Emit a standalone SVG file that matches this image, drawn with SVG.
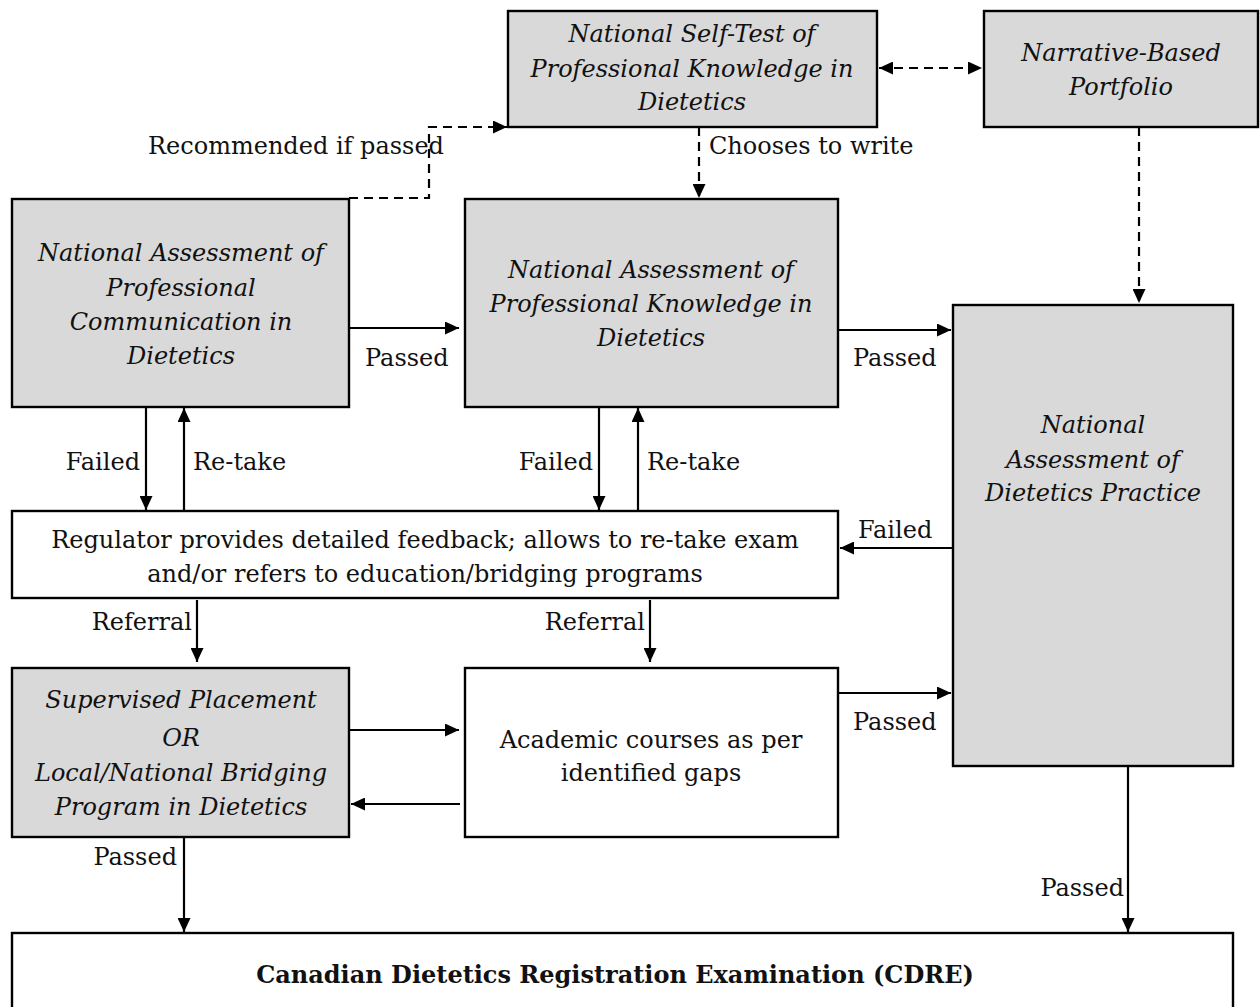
<svg xmlns="http://www.w3.org/2000/svg" width="1260" height="1007" viewBox="0 0 1260 1007">
  <defs>
    <marker id="ah" markerUnits="userSpaceOnUse" markerWidth="15" markerHeight="13" refX="14" refY="6.5" orient="auto-start-reverse">
      <path d="M0,0 L14,6.5 L0,13 z" fill="#000"/>
    </marker>
    <style>
      .box { stroke: #000; stroke-width: 2.4; }
      .grey { fill: #d9d9d9; }
      .white { fill: #fff; }
      .t { font-family: "DejaVu Serif", "Liberation Serif", serif; font-size: 24px; fill: #111; }
      .it { font-style: italic; }
      .c { text-anchor: middle; }
      .e { text-anchor: end; }
      .bold { font-weight: bold; font-size: 24px; }
      .ln { stroke: #000; stroke-width: 2.2; fill: none; }
      .dash { stroke-dasharray: 9 6; }
    </style>
  </defs>
  <rect width="1260" height="1007" fill="#fff"/>

  <!-- connectors -->
  <g id="connectors">
    <!-- recommended-if-passed route into the self-test -->
    <path class="ln dash" d="M349,198 H429 V127 H507" marker-end="url(#ah)"/>
    <!-- self-test <-> portfolio -->
    <line class="ln dash" x1="879" y1="68" x2="982" y2="68" marker-start="url(#ah)" marker-end="url(#ah)"/>
    <!-- chooses to write -->
    <line class="ln dash" x1="699" y1="127" x2="699" y2="198" marker-end="url(#ah)"/>
    <!-- portfolio to practice assessment -->
    <line class="ln dash" x1="1139" y1="127" x2="1139" y2="303" marker-end="url(#ah)"/>

    <!-- passed arrows along the top row -->
    <line class="ln" x1="350" y1="328" x2="459" y2="328" marker-end="url(#ah)"/>
    <line class="ln" x1="839" y1="330" x2="951" y2="330" marker-end="url(#ah)"/>

    <!-- failed / re-take pairs -->
    <line class="ln" x1="146" y1="408" x2="146" y2="510" marker-end="url(#ah)"/>
    <line class="ln" x1="184" y1="510" x2="184" y2="408" marker-end="url(#ah)"/>
    <line class="ln" x1="599" y1="408" x2="599" y2="510" marker-end="url(#ah)"/>
    <line class="ln" x1="638" y1="510" x2="638" y2="408" marker-end="url(#ah)"/>

    <!-- failed from practice assessment -->
    <line class="ln" x1="952" y1="548" x2="840" y2="548" marker-end="url(#ah)"/>

    <!-- referrals -->
    <line class="ln" x1="197" y1="600" x2="197" y2="662" marker-end="url(#ah)"/>
    <line class="ln" x1="650" y1="600" x2="650" y2="662" marker-end="url(#ah)"/>

    <!-- placement <-> academic courses -->
    <line class="ln" x1="350" y1="730" x2="459" y2="730" marker-end="url(#ah)"/>
    <line class="ln" x1="460" y1="804" x2="351" y2="804" marker-end="url(#ah)"/>

    <!-- academic courses passed -->
    <line class="ln" x1="839" y1="693" x2="951" y2="693" marker-end="url(#ah)"/>

    <!-- routes into the CDRE -->
    <line class="ln" x1="184" y1="838" x2="184" y2="932" marker-end="url(#ah)"/>
    <line class="ln" x1="1128" y1="767" x2="1128" y2="932" marker-end="url(#ah)"/>

    <!-- labels -->
    <text class="t" x="148" y="154">Recommended if passed</text>
    <text class="t" x="709" y="154">Chooses to write</text>
    <text class="t" x="365" y="366">Passed</text>
    <text class="t" x="853" y="366">Passed</text>
    <text class="t e" x="140" y="470">Failed</text>
    <text class="t" x="193" y="470">Re-take</text>
    <text class="t e" x="593" y="470">Failed</text>
    <text class="t" x="647" y="470">Re-take</text>
    <text class="t" x="858" y="538">Failed</text>
    <text class="t e" x="192" y="630">Referral</text>
    <text class="t e" x="645" y="630">Referral</text>
    <text class="t" x="853" y="730">Passed</text>
    <text class="t e" x="177" y="865">Passed</text>
    <text class="t e" x="1124" y="896">Passed</text>
  </g>

  <g id="self-test">
    <rect class="box grey" x="508" y="11" width="369" height="116"/>
    <text class="t it c" x="692" y="42">National Self-Test of</text>
    <text class="t it c" x="692" y="77">Professional Knowledge in</text>
    <text class="t it c" x="692" y="110">Dietetics</text>
  </g>

  <g id="portfolio">
    <rect class="box grey" x="984" y="11" width="274" height="116"/>
    <text class="t it c" x="1121" y="61">Narrative-Based</text>
    <text class="t it c" x="1121" y="95">Portfolio</text>
  </g>

  <g id="communication">
    <rect class="box grey" x="12" y="199" width="337" height="208"/>
    <text class="t it c" x="181" y="261">National Assessment of</text>
    <text class="t it c" x="181" y="296">Professional</text>
    <text class="t it c" x="181" y="330">Communication in</text>
    <text class="t it c" x="181" y="364">Dietetics</text>
  </g>

  <g id="knowledge">
    <rect class="box grey" x="465" y="199" width="373" height="208"/>
    <text class="t it c" x="651" y="278">National Assessment of</text>
    <text class="t it c" x="651" y="312">Professional Knowledge in</text>
    <text class="t it c" x="651" y="346">Dietetics</text>
  </g>

  <g id="practice">
    <rect class="box grey" x="953" y="305" width="280" height="461"/>
    <text class="t it c" x="1093" y="433">National</text>
    <text class="t it c" x="1093" y="468">Assessment of</text>
    <text class="t it c" x="1093" y="501">Dietetics Practice</text>
  </g>

  <g id="regulator">
    <rect class="box white" x="12" y="511" width="826" height="87"/>
    <text class="t c" x="425" y="548">Regulator provides detailed feedback; allows to re-take exam</text>
    <text class="t c" x="425" y="582">and/or refers to education/bridging programs</text>
  </g>

  <g id="placement">
    <rect class="box grey" x="12" y="668" width="337" height="169"/>
    <text class="t it c" x="181" y="708">Supervised Placement</text>
    <text class="t it c" x="181" y="746">OR</text>
    <text class="t it c" x="181" y="781">Local/National Bridging</text>
    <text class="t it c" x="181" y="815">Program in Dietetics</text>
  </g>

  <g id="academic">
    <rect class="box white" x="465" y="668" width="373" height="169"/>
    <text class="t c" x="651" y="748">Academic courses as per</text>
    <text class="t c" x="651" y="781">identified gaps</text>
  </g>

  <g id="cdre">
    <rect class="box white" x="12" y="933" width="1221" height="76"/>
    <text class="t bold c" x="615" y="983">Canadian Dietetics Registration Examination (CDRE)</text>
  </g>
</svg>
